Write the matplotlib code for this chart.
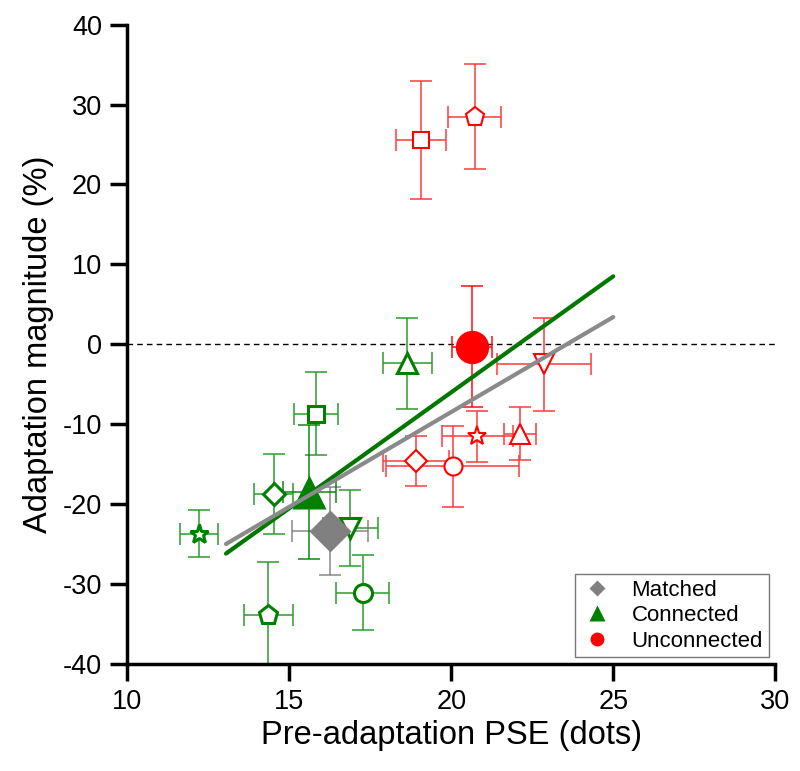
import matplotlib
matplotlib.use("Agg")
import matplotlib.pyplot as plt
from matplotlib.lines import Line2D

plt.rcParams['font.family'] = ['Liberation Sans', 'DejaVu Sans']
plt.rcParams['axes.unicode_minus'] = False

# connected (green) individual subjects
green_x = [12.22, 14.36, 14.52, 15.83, 16.88, 17.27, 18.65]
green_y = [-23.7, -33.9, -18.7, -8.67, -23.0, -31.1, -2.4]
green_xerr = [0.59, 0.75, 0.6, 0.67, 0.85, 0.82, 0.76]
green_yerr = [2.9, 6.7, 5.0, 5.2, 4.7, 4.7, 5.7]
green_markers = ['*', 'p', 'D', 's', 'v', 'o', '^']

# unconnected (red) individual subjects
red_x = [19.07, 20.72, 18.92, 20.05, 20.81, 22.13, 22.85]
red_y = [25.6, 28.5, -14.6, -15.3, -11.5, -11.2, -2.5]
red_xerr = [0.76, 0.83, 1.02, 2.05, 1.1, 0.5, 1.45]
red_yerr = [7.4, 6.6, 3.1, 5.1, 3.2, 3.3, 5.8]
red_markers = ['s', 'p', 'D', 'o', '*', '^', 'v']

# group means
mean_labels = ['Matched', 'Connected', 'Unconnected']
mean_x = [16.27, 15.62, 20.64]
mean_y = [-23.4, -18.5, -0.3]
mean_xerr = [1.17, 0.82, 0.62]
mean_yerr = [5.5, 8.4, 7.55]
mean_markers = ['D', '^', 'o']

# regression lines
fit_x = [13.05, 25.0]
green_fit_y = [-26.2, 8.5]
gray_fit_y = [-25.0, 3.4]

GREEN = '#008000'
RED = '#ff0000'
GRAY = '#808080'
sizes = {'*': 14, 'p': 14, 'D': 11, 's': 11.5, 'v': 15, 'o': 13, '^': 15}

fig = plt.figure(figsize=(8, 7.71), dpi=100)
ax = fig.add_axes([0.159, 0.139, 0.81, 0.829])

ax.plot([10, 30], [0, 0], color='black', lw=1, ls=(0, (4, 3)), zorder=1)

for xs, ys, xe, ye, mks, col, ecol, mew in [
        (green_x, green_y, green_xerr, green_yerr, green_markers, GREEN, '#2e9a2e', 2.2),
        (red_x, red_y, red_xerr, red_yerr, red_markers, RED, '#ff3b3b', 1.5)]:
    for x, y, dx, dy, m in zip(xs, ys, xe, ye, mks):
        ax.errorbar(x, y, xerr=dx, yerr=dy, fmt='none', ecolor=ecol,
                    elinewidth=1.1, capsize=8, capthick=1.1, zorder=2)
        ax.plot(x, y, marker=m, ms=sizes[m], mfc='white', mec=col, mew=mew,
                ls='none', zorder=3)

mean_cols = [GRAY, GREEN, RED]
mean_ms = [21, 25, 24]
for x, y, dx, dy, m, c, ms in zip(mean_x, mean_y, mean_xerr, mean_yerr,
                                 mean_markers, mean_cols, mean_ms):
    ax.errorbar(x, y, xerr=dx, yerr=dy, fmt='none', ecolor=c, alpha=0.8,
                elinewidth=1.3, capsize=8, capthick=1.3, zorder=2)
    ax.plot(x, y, marker=m, ms=ms, color=c, mec='none', ls='none', zorder=4)

ax.plot(fit_x, green_fit_y, color='#007800', lw=3, solid_capstyle='round', zorder=5)
ax.plot(fit_x, gray_fit_y, color='#8a8a8a', lw=3, solid_capstyle='round', zorder=5)

ax.set_xlim(10, 30)
ax.set_ylim(-40, 40)
ax.set_xticks([10, 15, 20, 25, 30])
ax.set_yticks(range(-40, 41, 10))
ax.spines['top'].set_visible(False)
ax.spines['right'].set_visible(False)
for s in ('left', 'bottom'):
    ax.spines[s].set_linewidth(2.5)
ax.tick_params(direction='out', length=12, width=2.5, labelsize=19.5, pad=6)
ax.set_xlabel('Pre-adaptation PSE (dots)', fontsize=23.5, labelpad=4)
ax.set_ylabel('Adaptation magnitude (%)', fontsize=23.5, labelpad=6)

handles = [Line2D([], [], marker=m, ms=10, color=c, mec='none', ls='none')
           for m, c in zip(mean_markers, mean_cols)]
handles[0].set_markersize(8)
handles[1].set_markersize(11)
leg = ax.legend(handles, mean_labels, loc='lower right', fontsize=16,
                frameon=True, fancybox=False, edgecolor='#555555',
                handlelength=1.5, handletextpad=0.8, borderpad=0.25,
                labelspacing=0.2, borderaxespad=0.3)
leg.get_frame().set_linewidth(1)

fig.savefig('out.png', dpi=100)
